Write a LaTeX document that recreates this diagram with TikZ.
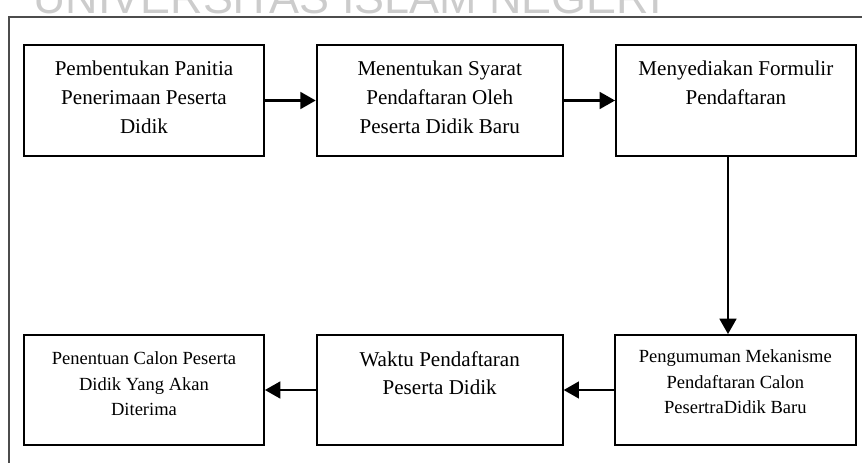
\documentclass[tikz,border=0pt]{standalone}
\usepackage{fontspec}
\setmainfont{Liberation Serif}
\newfontfamily\wmfont{Liberation Sans}
\usetikzlibrary{arrows.meta}

\tikzset{
  procbox/.style={draw, line width=1.4pt, inner sep=0pt, minimum height=#1},
  bigtext/.style={anchor=north, inner sep=0pt, align=center,
    font=\fontsize{15.8pt}{21.6pt}\selectfont},
  smalltext/.style={anchor=north, inner sep=0pt, align=center,
    font=\fontsize{13.9pt}{19.2pt}\selectfont},
  flow/.style={-{Triangle[length=11.5pt,width=12.5pt]}, line width=1.9pt},
}

\begin{document}
\begin{tikzpicture}[x=0.75pt,y=0.75pt,yscale=-1,xscale=1]
\useasboundingbox (0,0) rectangle (862,463);

% Watermark
\begin{scope}
\clip (0,0) rectangle (862,463);
\node [anchor=base west, inner sep=0pt, text=black!20,
  font=\wmfont\fontsize{33.7pt}{33.7pt}\selectfont] (wm) at (33,14) {UNIVERSITAS ISLAM NEGERI};
\end{scope}

%Shape: Rectangle (outer frame)
\draw [line width=1.2pt, black!70] (9,463) -- (9,17) -- (862,17);

%Shape: Rectangle
\node [procbox=83.25pt, minimum width=180pt] (b1) at (144,100.5) {};
%Shape: Rectangle
\node [procbox=83.25pt, minimum width=184.5pt] (b2) at (439.7,100.5) {};
%Shape: Rectangle
\node [procbox=83.25pt, minimum width=179.8pt] (b3) at (735.85,100.5) {};
%Shape: Rectangle
\node [procbox=82.5pt, minimum width=180pt] (b4) at (144,390) {};
%Shape: Rectangle
\node [procbox=82.5pt, minimum width=184.5pt] (b5) at (439.7,390) {};
%Shape: Rectangle
\node [procbox=82.5pt, minimum width=180.5pt] (b6) at (735.35,390) {};

% Text Node
\node [bigtext] (t1) at ([yshift=12.75pt]b1.north) {Pembentukan Panitia\\Penerimaan Peserta\\Didik};
% Text Node
\node [bigtext] (t2) at ([yshift=12.75pt]b2.north) {Menentukan Syarat\\Pendaftaran Oleh\\Peserta Didik Baru};
% Text Node
\node [bigtext] (t3) at ([yshift=12.75pt]b3.north) {Menyediakan Formulir\\Pendaftaran};
% Text Node
\node [smalltext] (t4) at ([yshift=13pt]b4.north) {Penentuan Calon Peserta\\Didik Yang Akan\\Diterima};
% Text Node
\node [bigtext] (t5) at ([yshift=12.75pt]b5.north) {Waktu Pendaftaran\\Peserta Didik};
% Text Node
\node [smalltext] (t6) at ([yshift=11.5pt]b6.north) {Pengumuman Mekanisme\\Pendaftaran Calon\\PesertraDidik Baru};

%Straight Lines
\draw [flow] (b1) -- (b2);
\draw [flow] (b2) -- (b3);
\draw [flow] ([xshift=-5.9pt]b3.south) -- ([xshift=-5.9pt]b3.south |- b6.north);
\draw [flow] (b6) -- (b5);
\draw [flow] (b5) -- (b4);

\end{tikzpicture}
\end{document}
